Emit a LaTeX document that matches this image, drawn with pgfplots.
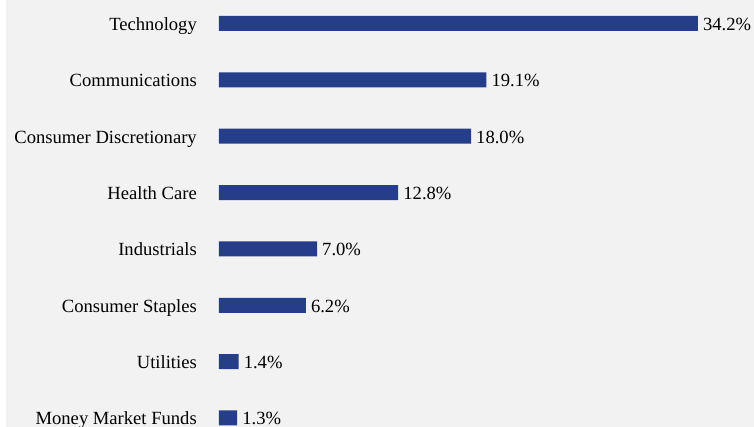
\documentclass[border=0pt]{standalone}
\usepackage{pgfplots}
\pgfplotsset{compat=1.18}
\usepackage{fontspec}
\setmainfont{Liberation Serif}

\definecolor{barblue}{RGB}{38,62,138}
\definecolor{panel}{RGB}{242,242,242}

\begin{document}
\begin{tikzpicture}
  % background panel, white strip at the left edge
  \fill[white] (-219pt,0) rectangle (535pt,427pt);
  \fill[panel] (-213pt,0) rectangle (535pt,427pt);
  \useasboundingbox (-219pt,0) rectangle (535pt,427pt);

  \begin{axis}[
      at={(0,0)}, anchor=south west,
      scale only axis,
      width=535pt, height=427pt,
      xmin=0, xmax=38.214,
      ymin=-0.417, ymax=7.16,
      y dir=reverse,
      xbar, bar width=15pt,
      axis line style={draw=none},
      major tick length=0pt,
      xtick=\empty,
      ytick={0,...,7},
      yticklabels={Technology,Communications,Consumer Discretionary,Health Care,Industrials,Consumer Staples,Utilities,Money Market Funds},
      yticklabel style={font=\fontsize{18.6}{21}\selectfont, anchor=base east,
        inner sep=0pt, xshift=-22pt, yshift=-7pt},
      point meta=explicit symbolic,
      nodes near coords,
      nodes near coords style={font=\fontsize{18.6}{21}\selectfont, anchor=base west,
        inner sep=0pt, xshift=5pt, yshift=-7pt, text=black},
      clip=false,
    ]
    \addplot[fill=barblue, draw=none] coordinates {
        (34.2,0) [34.2\%]
        (19.1,1) [19.1\%]
        (18.0,2) [18.0\%]
        (12.8,3) [12.8\%]
        (7.0,4)  [7.0\%]
        (6.2,5)  [6.2\%]
        (1.4,6)  [1.4\%]
        (1.3,7)  [1.3\%]
      };
  \end{axis}
\end{tikzpicture}
\end{document}
